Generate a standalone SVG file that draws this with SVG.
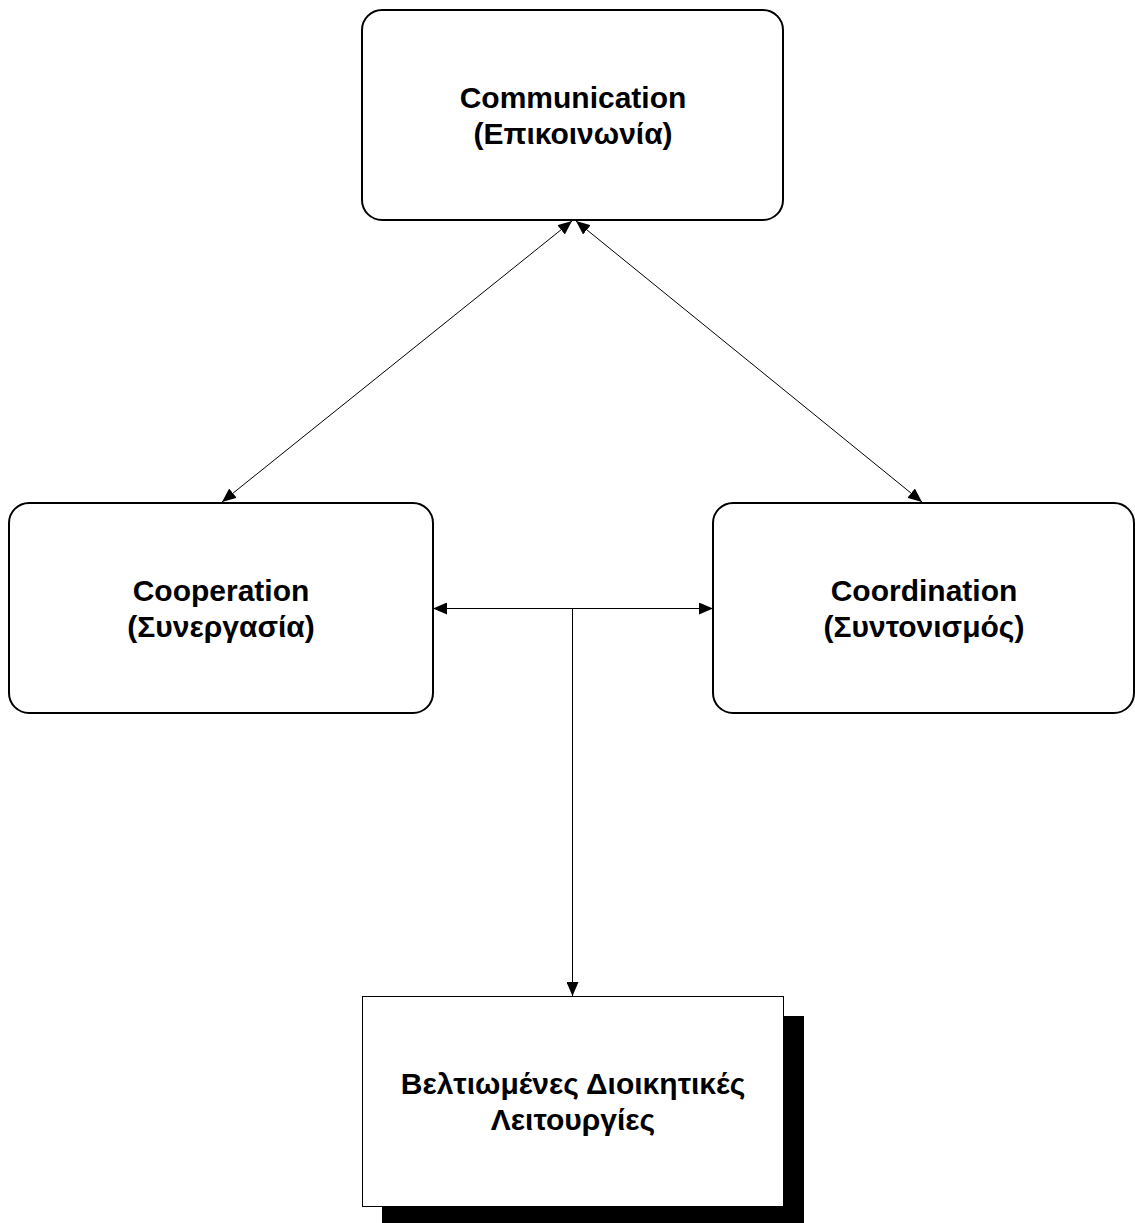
<svg xmlns="http://www.w3.org/2000/svg" width="1135" height="1223" viewBox="0 0 1135 1223">
  <style>
    .node { fill: #ffffff; stroke: #000000; stroke-width: 2; }
    .box { fill: #ffffff; stroke: #000000; stroke-width: 1; }
    .shadow { fill: #000000; stroke: none; }
    .label { font-family: "Liberation Sans", Arial, sans-serif; font-weight: bold; font-size: 30px; fill: #000000; text-anchor: middle; }
    .link { stroke: #000000; stroke-width: 1; fill: none; }
  </style>
  <defs>
    <marker id="arrow-end" viewBox="0 0 14 12" refX="14" refY="6" markerWidth="14" markerHeight="12" markerUnits="userSpaceOnUse" orient="auto">
      <path d="M0,0 L14,6 L0,12 Z" fill="#000000"/>
    </marker>
    <marker id="arrow-start" viewBox="0 0 14 12" refX="0" refY="6" markerWidth="14" markerHeight="12" markerUnits="userSpaceOnUse" orient="auto">
      <path d="M14,0 L0,6 L14,12 Z" fill="#000000"/>
    </marker>
  </defs>

  <!-- Connectors -->
  <g id="connectors">
    <line class="link" x1="572" y1="221" x2="222" y2="502" marker-start="url(#arrow-start)" marker-end="url(#arrow-end)"/>
    <line class="link" x1="576" y1="221" x2="922" y2="502" marker-start="url(#arrow-start)" marker-end="url(#arrow-end)"/>
    <line class="link" x1="433" y1="608.5" x2="713" y2="608.5" marker-start="url(#arrow-start)" marker-end="url(#arrow-end)"/>
    <line class="link" x1="572.5" y1="608.5" x2="572.5" y2="996" marker-end="url(#arrow-end)"/>
  </g>

  <!-- Communication -->
  <g id="node-communication">
    <rect class="node" x="362" y="10" width="421" height="210" rx="20" ry="20"/>
    <text class="label" x="573" y="108">Communication</text>
    <text class="label" x="573" y="144">(Επικοινωνία)</text>
  </g>

  <!-- Cooperation -->
  <g id="node-cooperation">
    <rect class="node" x="9" y="503" width="424" height="210" rx="20" ry="20"/>
    <text class="label" x="221" y="601">Cooperation</text>
    <text class="label" x="221" y="637">(Συνεργασία)</text>
  </g>

  <!-- Coordination -->
  <g id="node-coordination">
    <rect class="node" x="713" y="503" width="421" height="210" rx="20" ry="20"/>
    <text class="label" x="924" y="601">Coordination</text>
    <text class="label" x="924" y="637">(Συντονισμός)</text>
  </g>

  <!-- Outcome box with drop shadow -->
  <g id="node-outcome">
    <rect class="shadow" x="382" y="1016" width="422" height="207"/>
    <rect class="box" x="362.5" y="996.5" width="421" height="210"/>
    <text class="label" x="573" y="1094">Βελτιωμένες Διοικητικές</text>
    <text class="label" x="573" y="1130">Λειτουργίες</text>
  </g>
</svg>
